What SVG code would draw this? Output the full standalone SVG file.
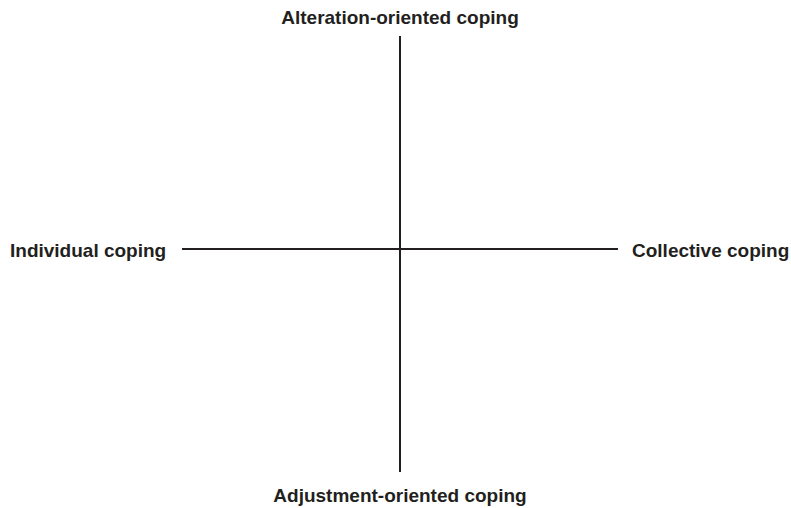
<svg xmlns="http://www.w3.org/2000/svg" width="791" height="508" viewBox="0 0 791 508">
<style>
.lbl{font-family:"Liberation Sans",Arial,sans-serif;font-weight:bold;font-size:19px;fill:#231f20}
.ax{stroke:#231f20;stroke-width:2;fill:none}
</style>
<rect width="791" height="508" fill="#fff"/>
<g id="connectors">
<line class="ax" x1="400" y1="36" x2="400" y2="472"/>
<line class="ax" x1="182" y1="249" x2="618" y2="249"/>
</g>
<g id="top"><text class="lbl" x="400" y="24" text-anchor="middle">Alteration-oriented coping</text></g>
<g id="left"><text class="lbl" x="10" y="257">Individual coping</text></g>
<g id="right"><text class="lbl" x="632" y="257">Collective coping</text></g>
<g id="bottom"><text class="lbl" x="400" y="502" text-anchor="middle">Adjustment-oriented coping</text></g>
</svg>
